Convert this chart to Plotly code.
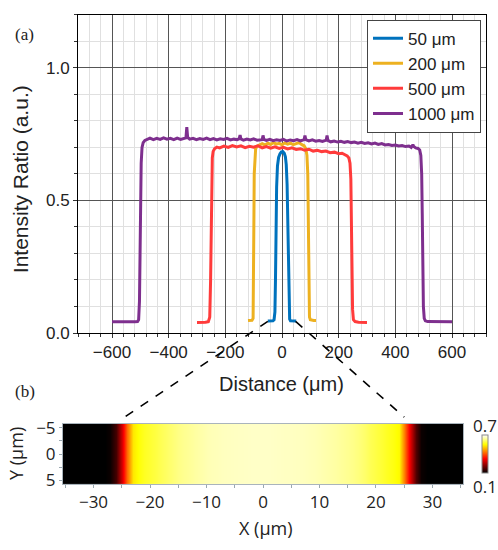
import plotly.graph_objects as go

W, H = 498, 550

# ---- panel (a): intensity profiles across stripes of different widths ----
x50 = [-50, -40, -32, -28, -25, -23, -21, -19, -16, -12, -7, -2, 3, 8, 12, 15, 18, 20, 22, 24, 27, 30, 38, 50]
y50 = [0.045, 0.045, 0.046, 0.05, 0.08, 0.2, 0.4, 0.55, 0.63, 0.662, 0.676, 0.683, 0.684, 0.678, 0.664, 0.635, 0.56, 0.42, 0.22, 0.09, 0.052, 0.046, 0.045, 0.045]

x200 = [-120, -112, -106, -102, -100, -99, -98, -96, -93, -88, -80, -70, -60, -50, -40, -30, -20, -10, 0, 10, 20, 30, 40, 50, 60, 70, 78, 84, 88, 91, 93, 94, 95, 97, 100, 106, 112, 120]
y200 = [0.047, 0.047, 0.048, 0.055, 0.2, 0.45, 0.6, 0.67, 0.695, 0.705, 0.71, 0.714, 0.709, 0.716, 0.711, 0.718, 0.712, 0.715, 0.71, 0.717, 0.712, 0.716, 0.71, 0.714, 0.718, 0.71, 0.706, 0.695, 0.67, 0.6, 0.45, 0.25, 0.12, 0.06, 0.05, 0.048, 0.047, 0.047]

x500 = [-300, -285, -270, -260, -255, -252, -250, -248, -246, -243, -238, -230, -220, -205, -190, -175, -160, -145, -130, -115, -100, -85, -70, -55, -40, -25, -10, 5, 20, 35, 50, 65, 80, 95, 110, 125, 140, 155, 170, 185, 200, 212, 222, 230, 236, 240, 243, 245, 247, 249, 252, 258, 270, 285, 300]
y500 = [0.04, 0.04, 0.041, 0.043, 0.06, 0.2, 0.42, 0.6, 0.66, 0.685, 0.695, 0.701, 0.698, 0.705, 0.7, 0.707, 0.702, 0.706, 0.699, 0.704, 0.701, 0.706, 0.698, 0.703, 0.697, 0.702, 0.696, 0.7, 0.694, 0.698, 0.692, 0.695, 0.689, 0.693, 0.686, 0.689, 0.684, 0.686, 0.68, 0.682, 0.676, 0.678, 0.672, 0.668, 0.66, 0.64, 0.58, 0.42, 0.22, 0.09, 0.05, 0.043, 0.041, 0.04, 0.04]

x1000 = [-600, -560, -520, -510, -506, -503, -501, -499, -497, -494, -490, -484, -476, -466, -454, -442, -430, -418, -406, -394, -382, -370, -358, -346, -339, -336, -333, -326, -314, -302, -290, -278, -266, -254, -242, -230, -218, -206, -194, -182, -170, -158, -151, -148, -145, -136, -124, -112, -100, -88, -76, -70, -67, -64, -55, -43, -31, -19, -7, 5, 17, 29, 41, 53, 65, 75, 78, 81, 84, 95, 107, 119, 131, 143, 153, 156, 159, 162, 172, 184, 196, 208, 220, 232, 244, 256, 268, 280, 292, 304, 316, 328, 340, 352, 364, 376, 388, 400, 412, 424, 436, 448, 456, 459, 462, 465, 472, 480, 486, 490, 493, 495, 497, 499, 502, 506, 514, 540, 570, 600]
y1000 = [0.042, 0.041, 0.042, 0.043, 0.05, 0.12, 0.3, 0.5, 0.64, 0.7, 0.718, 0.726, 0.73, 0.735, 0.729, 0.734, 0.73, 0.736, 0.731, 0.734, 0.729, 0.735, 0.73, 0.733, 0.736, 0.776, 0.738, 0.731, 0.734, 0.729, 0.733, 0.73, 0.735, 0.729, 0.733, 0.728, 0.732, 0.73, 0.734, 0.728, 0.731, 0.729, 0.733, 0.746, 0.732, 0.727, 0.731, 0.728, 0.732, 0.727, 0.73, 0.729, 0.745, 0.73, 0.726, 0.73, 0.725, 0.729, 0.726, 0.73, 0.724, 0.728, 0.725, 0.729, 0.724, 0.727, 0.729, 0.745, 0.729, 0.724, 0.728, 0.723, 0.726, 0.722, 0.724, 0.727, 0.745, 0.726, 0.721, 0.724, 0.72, 0.723, 0.719, 0.722, 0.718, 0.72, 0.716, 0.719, 0.715, 0.717, 0.713, 0.716, 0.711, 0.714, 0.709, 0.711, 0.707, 0.709, 0.705, 0.707, 0.703, 0.705, 0.7, 0.704, 0.71, 0.703, 0.698, 0.696, 0.69, 0.67, 0.6, 0.45, 0.25, 0.1, 0.055, 0.046, 0.043, 0.042, 0.041, 0.042]

series = [
    ("50 \u03bcm", x50, y50, "#0072BD"),
    ("200 \u03bcm", x200, y200, "#EDB120"),
    ("500 \u03bcm", x500, y500, "#FF3B3B"),
    ("1000 \u03bcm", x1000, y1000, "#7E2F8E"),
]

# ---- panel (b): intensity map of the 50 um stripe ----
map_x = list(range(-36, 37))
map_y = [-6, 6]
map_profile = [
    0.10, 0.10, 0.10, 0.10, 0.10, 0.10, 0.10, 0.10, 0.10,
    0.11, 0.16, 0.29, 0.42, 0.53, 0.555, 0.57, 0.58, 0.59, 0.60, 0.61, 0.62,
    0.628, 0.635, 0.64, 0.645, 0.65, 0.655, 0.658, 0.66, 0.662, 0.663, 0.664,
    0.665, 0.666, 0.667, 0.667, 0.667, 0.667, 0.666, 0.665, 0.664, 0.664,
    0.663, 0.662, 0.66, 0.658, 0.655, 0.652, 0.648, 0.645, 0.64, 0.635, 0.63,
    0.622, 0.612, 0.60, 0.59, 0.58, 0.57, 0.56, 0.545, 0.44, 0.30, 0.17, 0.11,
    0.10, 0.10, 0.10, 0.10, 0.10, 0.10, 0.10, 0.10,
]
map_z = [map_profile for _ in map_y]

a_xrange = [-720, 720]
a_yrange = [0, 1.2]
b_xrange = [-35.4, 35.4]
b_yrange = [5.65, -5.7]

a_xdom = [78 / W, 486 / W]
a_ydom = [1 - 336 / H, 1 - 7 / H]
b_xdom = [63 / W, 463 / W]
b_ydom = [1 - 492 / H, 1 - 430 / H]

hot = [[0, "#000000"], [0.375, "#ff0000"], [0.75, "#ffff00"], [1, "#ffffff"]]

fig = go.Figure()
for name, xs, ys, col in series:
    fig.add_trace(go.Scatter(x=xs, y=ys, mode="lines", name=name,
                             line=dict(color=col, width=3), xaxis="x", yaxis="y"))

fig.add_trace(go.Heatmap(
    x=map_x, y=map_y, z=map_z, zmin=0.1, zmax=0.7, zsmooth="best",
    colorscale=hot, xaxis="x2", yaxis="y2", showlegend=False,
    colorbar=dict(thickness=6, len=38, lenmode="pixels", x=482 / W, xanchor="left",
                  y=1 - 461 / H, yanchor="middle", xpad=0, ypad=0,
                  outlinecolor="#8a8a8a", outlinewidth=1,
                  showticklabels=False, ticks=""),
))

tick_font = dict(family="Liberation Sans, Arial, sans-serif", size=17, color="#222")
map_font = dict(family="Open Sans, sans-serif", size=17, color="#222")


def to_paper(v, rng, dom):
    return dom[0] + (v - rng[0]) / (rng[1] - rng[0]) * (dom[1] - dom[0])


# dashed guides from the 50 um profile down to the map
shapes = []
for xa, xb in [(-50, -24.5), (48, 25)]:
    shapes.append(dict(
        type="line", xref="paper", yref="paper",
        x0=to_paper(xa, a_xrange, a_xdom), y0=to_paper(0.044, a_yrange, a_ydom),
        x1=to_paper(xb, b_xrange, b_xdom), y1=to_paper(-7.0, b_yrange, b_ydom),
        line=dict(color="black", width=1.6, dash="dash"),
    ))

annotations = [
    dict(text="(a)", x=13 / W, y=1 - 27 / H, xanchor="left", yanchor="middle",
         font=dict(family="Liberation Serif, serif", size=17, color="#222")),
    dict(text="(b)", x=13 / W, y=1 - 396 / H, xanchor="left", yanchor="middle",
         font=dict(family="Liberation Serif, serif", size=17, color="#222")),
    dict(text="Intensity Ratio (a.u.)", x=20 / W, y=1 - 177 / H, textangle=-90,
         xanchor="center", yanchor="middle",
         font=dict(family="Liberation Sans, Arial, sans-serif", size=21, color="#222")),
    dict(text="Distance (\u03bcm)", x=281 / W, y=1 - 389 / H, xanchor="center", yanchor="middle",
         font=dict(family="Liberation Sans, Arial, sans-serif", size=20, color="#222")),
    dict(text="Y (\u03bcm)", x=16 / W, y=1 - 460 / H, textangle=-90,
         xanchor="center", yanchor="middle",
         font=dict(family="Open Sans, sans-serif", size=18, color="#222")),
    dict(text="X (\u03bcm)", x=265 / W, y=1 - 538 / H, xanchor="center", yanchor="middle",
         font=dict(family="Open Sans, sans-serif", size=18, color="#222")),
    dict(text="0.7", x=485 / W, y=1 - 432 / H, xanchor="center", yanchor="middle", font=map_font),
    dict(text="0.1", x=485 / W, y=1 - 495 / H, xanchor="center", yanchor="middle", font=map_font),
]
for a in annotations:
    a.update(xref="paper", yref="paper", showarrow=False)

fig.update_layout(
    width=W, height=H,
    margin=dict(l=0, r=0, t=0, b=0),
    paper_bgcolor="white", plot_bgcolor="white",
    showlegend=True,
    legend=dict(x=367 / W, y=1 - 12 / H, xanchor="left", yanchor="top",
                bgcolor="white", bordercolor="#444", borderwidth=1,
                font=dict(family="Liberation Sans, Arial, sans-serif", size=17, color="#222"),
                tracegroupgap=0),
    xaxis=dict(domain=a_xdom, range=a_xrange, anchor="y", tick0=0, dtick=200,
               showgrid=True, gridcolor="#555", gridwidth=1, zeroline=False,
               showline=True, linecolor="black", linewidth=1, mirror=True,
               ticks="outside", ticklen=4, tickcolor="#333", tickfont=tick_font,
               minor=dict(dtick=40, showgrid=True, gridcolor="#e0e0e0", gridwidth=1,
                          ticks="outside", ticklen=3, tickcolor="#333")),
    yaxis=dict(domain=a_ydom, range=a_yrange, anchor="x", tick0=0, dtick=0.5,
               tickformat=".1f",
               showgrid=True, gridcolor="#555", gridwidth=1, zeroline=False,
               showline=True, linecolor="black", linewidth=1, mirror=True,
               ticks="outside", ticklen=4, tickcolor="#333", tickfont=tick_font,
               minor=dict(dtick=0.1, showgrid=True, gridcolor="#e0e0e0", gridwidth=1,
                          ticks="outside", ticklen=3, tickcolor="#333")),
    # inward ticks along the top and right frame of panel (a)
    xaxis3=dict(overlaying="x", anchor="y", side="top", range=a_xrange, tick0=0, dtick=40,
                ticks="inside", ticklen=4, tickcolor="#333", showticklabels=False,
                showgrid=False, zeroline=False, showline=False),
    yaxis3=dict(overlaying="y", anchor="x", side="right", range=a_yrange, tick0=0, dtick=0.1,
                ticks="inside", ticklen=4, tickcolor="#333", showticklabels=False,
                showgrid=False, zeroline=False, showline=False),
    xaxis2=dict(domain=b_xdom, range=b_xrange, anchor="y2", tick0=0, dtick=10,
                showgrid=False, zeroline=False,
                showline=True, linecolor="#a9b4bc", linewidth=1, mirror=True,
                ticks="outside", ticklen=3, tickcolor="#9aa8b0", tickfont=map_font,
                minor=dict(dtick=5, ticks="outside", ticklen=3, tickcolor="#9aa8b0")),
    yaxis2=dict(domain=b_ydom, range=b_yrange, anchor="x2", tick0=0, dtick=5,
                showgrid=False, zeroline=False,
                showline=True, linecolor="#a9b4bc", linewidth=1, mirror=True,
                ticks="outside", ticklen=3, tickcolor="#9aa8b0", tickfont=map_font,
                minor=dict(dtick=2.5, ticks="outside", ticklen=3, tickcolor="#9aa8b0")),
    shapes=shapes,
    annotations=annotations,
)

fig.write_html("out.html")
